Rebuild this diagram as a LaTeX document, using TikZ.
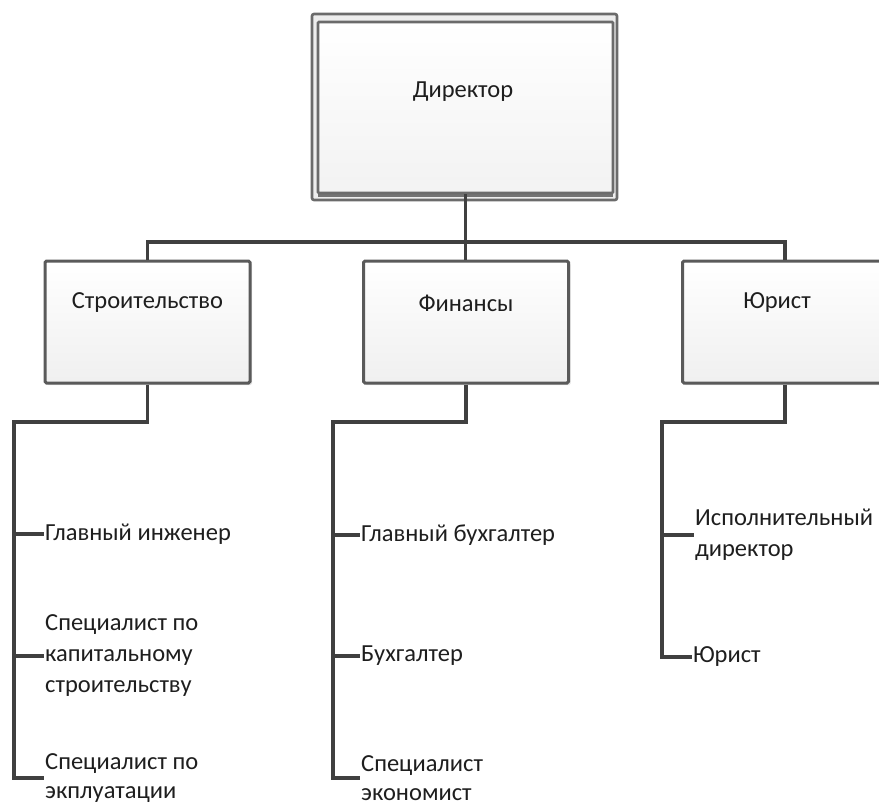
\documentclass[tikz,border=0pt]{standalone}
\usepackage{fontspec}
\setmainfont{Carlito}
\usetikzlibrary{shadows}
\definecolor{edge}{HTML}{5A5A5A}
\definecolor{wire}{HTML}{404040}
\definecolor{ink}{HTML}{1E1E1E}
\begin{document}
\begin{tikzpicture}[x=1pt,y=-1pt,
  unit/.style={draw=edge, line width=3pt, rounded corners=1.5pt,
    minimum width=205pt, minimum height=122pt, inner sep=0pt,
    top color=white, bottom color=gray!12,
    drop shadow={opacity=0.22, shadow xshift=2pt, shadow yshift=-2pt}},
  bossframe/.style={draw=edge!90, line width=2.6pt, rounded corners=2pt,
    minimum width=305pt, minimum height=186pt, inner sep=0pt, fill=gray!14},
  bossbox/.style={draw=edge!90, line width=2.6pt, rounded corners=1pt,
    minimum width=295pt, minimum height=171pt, inner sep=0pt,
    top color=white, bottom color=gray!10},
  caption/.style={font=\fontsize{24.5}{29}\selectfont, text=ink, inner sep=0pt},
  post/.style={font=\fontsize{24.5}{31}\selectfont, text=ink, align=left,
    anchor=west, inner sep=1pt},
  lastpost/.style={post, font=\fontsize{24.5}{29}\selectfont},
  wire/.style={draw=wire, line width=3.2pt}]
\useasboundingbox (0,0) rectangle (879,807);
\clip (0,0) rectangle (879,807);

% director with double frame
\node[bossframe] (dirframe) at (464.5,107) {};
\fill[edge!85] (318,188) rectangle (613,197);
\node[bossbox] (dir) at (465.5,107.5) {};
\node[caption] (dirlabel) at (463,92) {Директор};

% departments
\node[unit] (str) at (147.5,322) {};
\node[unit] (fin) at (466,322) {};
\node[unit] (jur) at (785,322) {};
\node[caption] (strlabel) at (147.5,303) {Строительство};
\node[caption] (finlabel) at (466,303) {Финансы};
\node[caption] (jurlabel) at (777,303) {Юрист};

% staff of the construction department
\node[post] (s1) at (44,534) {Главный инженер};
\node[post] (s2) at (44,656) {Специалист по\\капитальному\\строительству};
\node[lastpost] (s3) at (44,778) {Специалист по\\экплуатации};

% staff of the finance department
\node[post] (f1) at (360,535) {Главный бухгалтер};
\node[post] (f2) at (360,656) {Бухгалтер};
\node[lastpost] (f3) at (360,778) {Специалист\\экономист};

% staff of the legal department
\node[post] (j1) at (694,535) {Исполнительный\\директор};
\node[post] (j2) at (692,657) {Юрист};

% top level links
\coordinate (bus) at (465.5,242);
\draw[wire] (str.north) |- (bus) -| (jur.north);
\draw[wire] (dir.south) -- (dir.south |- fin.north);

% construction branch
\coordinate (s0) at (14,422);
\draw[wire] (str.south) |- (s0) |- (s3.west);
\draw[wire] (s0 |- s1.west) -- (s1.west);
\draw[wire] (s0 |- s2.west) -- (s2.west);

% finance branch
\coordinate (f0) at (333,422);
\draw[wire] (fin.south) |- (f0) |- (f3.west);
\draw[wire] (f0 |- f1.west) -- (f1.west);
\draw[wire] (f0 |- f2.west) -- (f2.west);

% legal branch
\coordinate (j0) at (662,422);
\draw[wire] (jur.south) |- (j0) |- (j2.west);
\draw[wire] (j0 |- j1.west) -- (j1.west);
\end{tikzpicture}
\end{document}
